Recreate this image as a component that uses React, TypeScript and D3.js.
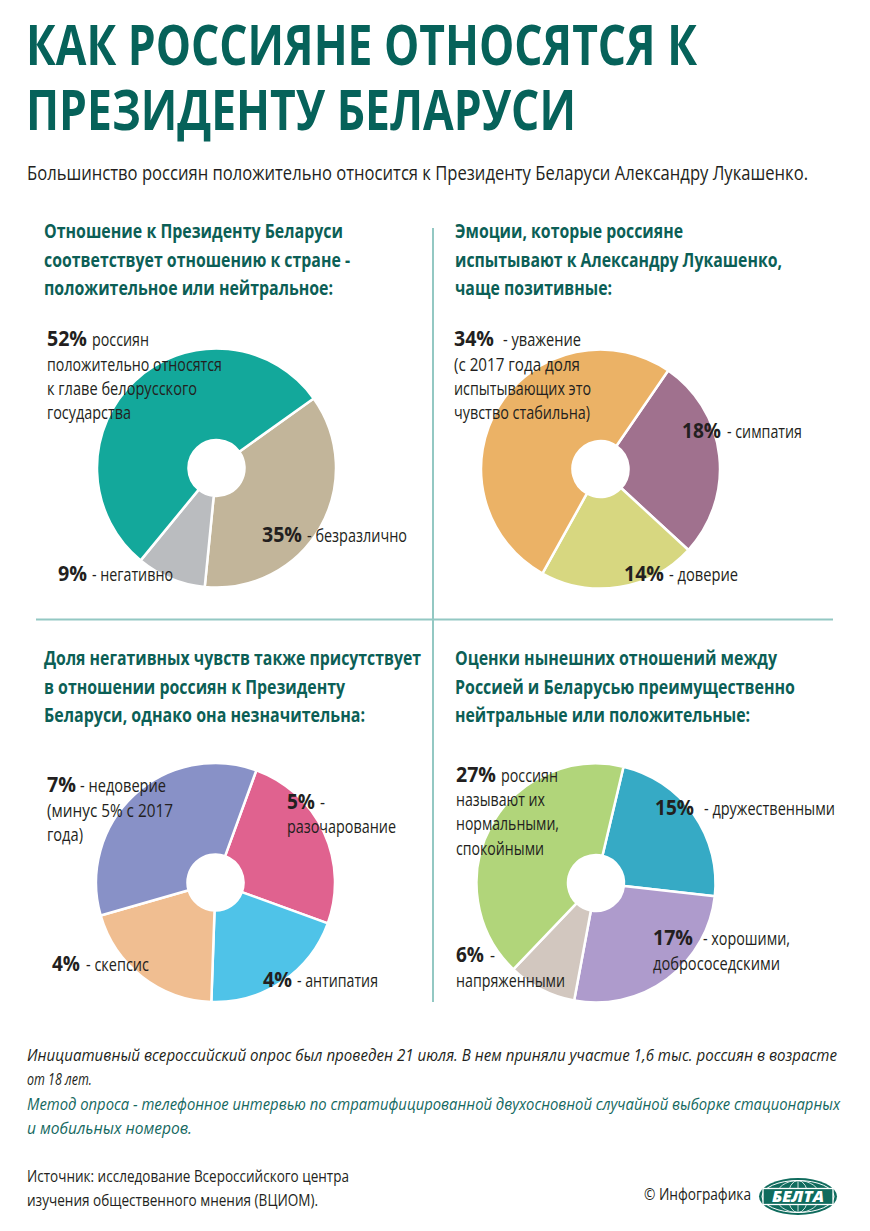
import React from "react";
import * as d3 from "d3";

// ---------- DATA ----------
const titleLines = ["КАК РОССИЯНЕ ОТНОСЯТСЯ К", "ПРЕЗИДЕНТУ БЕЛАРУСИ"];
const subtitle = "Большинство россиян положительно относится к Президенту Беларуси Александру Лукашенко.";

const header1 = ["Отношение к Президенту Беларуси", "соответствует отношению к стране -", "положительное или нейтральное:"];
const header2 = ["Эмоции, которые россияне", "испытывают к Александру Лукашенко,", "чаще позитивные:"];
const header3 = ["Доля негативных чувств также присутствует", "в отношении россиян к Президенту", "Беларуси, однако она незначительна:"];
const header4 = ["Оценки нынешних отношений между", "Россией и Беларусью преимущественно", "нейтральные или положительные:"];

// slices listed clockwise from each pie's start angle
const pie1Categories = ["безразлично", "негативно", "положительно"];
const pie1Values = [35, 9, 52];
const pie2Categories = ["симпатия", "доверие", "уважение"];
const pie2Values = [18, 14, 34];
const pie3Categories = ["разочарование", "антипатия", "скепсис", "недоверие"];
const pie3Values = [5, 4, 4, 7];
const pie4Categories = ["дружественными", "хорошими, добрососедскими", "напряженными", "нормальными, спокойными"];
const pie4Values = [15, 17, 6, 27];

const footerLines = [
  "Инициативный всероссийский опрос был проведен 21 июля. В нем приняли участие 1,6 тыс. россиян в возрасте",
  "от 18 лет.",
];
const methodLines = [
  "Метод опроса - телефонное интервью по стратифицированной двухосновной случайной выборке стационарных",
  "и мобильных номеров.",
];
const sourceLines = ["Источник: исследование Всероссийского центра", "изучения общественного мнения (ВЦИОМ)."];
const creditText = "© Инфографика";
const logoText = "БЕЛТА";

// ---------- STYLE ----------
const pie1Colors = ["#c2b59a", "#babcbf", "#13a89b"];
const pie2Colors = ["#a0718e", "#d7d780", "#ebb266"];
const pie3Colors = ["#e0628f", "#4fc3e8", "#f0be91", "#8891c7"];
const pie4Colors = ["#36aac5", "#ae9bcc", "#d2c7bf", "#b1d57a"];

const TITLE_C = "#06625a";
const HEAD_C = "#0c5f56";
const TEXT_C = "#231f20";
const LINE_C = "#93c8c3";
const FAMILY = "'Open Sans'";
const FONT = "'Open Sans', 'Noto Sans', sans-serif";

type Item = { x: number; y: number; w: number; t?: string; num?: number; bold?: boolean };

const pieLayouts = [
  { cx: 216.5, cy: 468, start: 54.4, values: pie1Values, colors: pie1Colors, cats: pie1Categories },
  { cx: 600.5, cy: 469, start: 34.5, values: pie2Values, colors: pie2Colors, cats: pie2Categories },
  { cx: 215.5, cy: 882.5, start: 20, values: pie3Values, colors: pie3Colors, cats: pie3Categories },
  { cx: 596, cy: 883, start: 13.3, values: pie4Values, colors: pie4Colors, cats: pie4Categories },
];

const labelLayouts: Item[][] = [
  [
    { x: 47, y: 346, w: 40, num: 2, bold: true },
    { x: 92, y: 346, w: 57, t: "россиян" },
    { x: 47, y: 371, w: 175, t: "положительно относятся" },
    { x: 47, y: 395, w: 150, t: "к главе белорусского" },
    { x: 47, y: 419, w: 84, t: "государства" },
    { x: 262, y: 542, w: 40, num: 0, bold: true },
    { x: 307, y: 542, w: 100, t: "- безразлично" },
    { x: 58, y: 581, w: 29, num: 1, bold: true },
    { x: 92, y: 581, w: 81, t: "- негативно" },
  ],
  [
    { x: 454, y: 346, w: 40, num: 2, bold: true },
    { x: 503, y: 346, w: 78, t: "- уважение" },
    { x: 454, y: 371, w: 126, t: "(с 2017 года доля" },
    { x: 454, y: 395, w: 137, t: "испытывающих это" },
    { x: 454, y: 419, w: 136, t: "чувство стабильна)" },
    { x: 682, y: 438, w: 39, num: 0, bold: true },
    { x: 727, y: 438, w: 75, t: "- симпатия" },
    { x: 624, y: 581, w: 40, num: 1, bold: true },
    { x: 669, y: 581, w: 69, t: "- доверие" },
  ],
  [
    { x: 47, y: 792, w: 29, num: 3, bold: true },
    { x: 80, y: 792, w: 86, t: "- недоверие" },
    { x: 47, y: 817, w: 126, t: "(минус 5% с 2017" },
    { x: 47, y: 841, w: 36, t: "года)" },
    { x: 287, y: 809, w: 28, num: 0, bold: true },
    { x: 320, y: 809, w: 5, t: "-" },
    { x: 287, y: 833, w: 109, t: "разочарование" },
    { x: 52, y: 971, w: 28, num: 2, bold: true },
    { x: 86, y: 971, w: 63, t: "- скепсис" },
    { x: 263, y: 987, w: 29, num: 1, bold: true },
    { x: 297, y: 987, w: 81, t: "- антипатия" },
  ],
  [
    { x: 456, y: 782, w: 40, num: 3, bold: true },
    { x: 501, y: 782, w: 57, t: "россиян" },
    { x: 456, y: 806, w: 89, t: "называют их" },
    { x: 456, y: 830, w: 103, t: "нормальными," },
    { x: 456, y: 855, w: 88, t: "спокойными" },
    { x: 655, y: 815, w: 39, num: 0, bold: true },
    { x: 704, y: 815, w: 131, t: "- дружественными" },
    { x: 653, y: 945, w: 40, num: 1, bold: true },
    { x: 703, y: 945, w: 87, t: "- хорошими," },
    { x: 653, y: 970, w: 127, t: "добрососедскими" },
    { x: 456, y: 962, w: 28, num: 2, bold: true },
    { x: 490, y: 962, w: 5, t: "-" },
    { x: 456, y: 987, w: 109, t: "напряженными" },
  ],
];

const headerLayouts = [
  { lines: header1, x: 44, y: 238, w: [299, 306, 289] },
  { lines: header2, x: 455, y: 238, w: [228, 327, 157] },
  { lines: header3, x: 44, y: 665, w: [377, 301, 321] },
  { lines: header4, x: 455, y: 665, w: [322, 340, 295] },
];

const R_OUT = 119.5;
const R_IN = 28;

// measure natural text width so condensed text is drawn with a font size whose
// natural advance equals the target width, then stretched vertically back to size
let measureCtx: CanvasRenderingContext2D | null = null;
function measure(text: string, size: number, weight: number | string, italic: boolean): number {
  if (typeof document === "undefined") return text.length * size * 0.5;
  if (!measureCtx) {
    const c = document.createElement("canvas");
    measureCtx = c.getContext("2d");
  }
  if (!measureCtx) return text.length * size * 0.5;
  measureCtx.font = `${italic ? "italic " : ""}${weight} ${size}px ${FAMILY}, sans-serif`;
  return measureCtx.measureText(text).width || text.length * size * 0.5;
}

function T(props: {
  x: number; y: number; w?: number; size: number; weight?: number | string; fill: string;
  italic?: boolean; children: string;
}) {
  const { x, y, w, size, fill, italic, children } = props;
  const weight = props.weight ?? 400;
  let fs = size;
  let sy = 1;
  if (w) {
    const nat = measure(children, size, weight, !!italic);
    const k = w / nat;
    fs = size * k;
    sy = 1 / k;
  }
  return (
    <text
      transform={`translate(${x},${y}) scale(1,${sy.toFixed(4)})`}
      x={0}
      y={0}
      fontSize={fs}
      fontWeight={weight}
      fontStyle={italic ? "italic" : "normal"}
      fill={fill}
      fontFamily={FONT}
      {...(w ? { textLength: w, lengthAdjust: "spacingAndGlyphs" } : {})}
    >
      {children}
    </text>
  );
}

function Donut({ layout }: { layout: (typeof pieLayouts)[number] }) {
  const s = (layout.start * Math.PI) / 180;
  const pie = d3
    .pie<number>()
    .sort(null)
    .value((d) => d)
    .startAngle(s)
    .endAngle(s + 2 * Math.PI);
  const arc = d3.arc<d3.PieArcDatum<number>>().innerRadius(R_IN).outerRadius(R_OUT);
  const arcs = pie(layout.values);
  return (
    <g transform={`translate(${layout.cx},${layout.cy})`}>
      {arcs.map((a, i) => (
        <path key={layout.cats[i]} d={arc(a) || ""} fill={layout.colors[i]} stroke="#ffffff" strokeWidth={2.5} strokeLinejoin="round" />
      ))}
    </g>
  );
}

function Logo() {
  const cx = 798, cy = 1196.5, rx = 39, ry = 18.5;
  return (
    <g>
      <ellipse cx={cx} cy={cy} rx={rx} ry={ry} fill="#0f6b5d" />
      <ellipse cx={cx} cy={cy} rx={rx - 3} ry={ry - 2.5} fill="none" stroke="#ffffff" strokeWidth={1} />
      <ellipse cx={cx} cy={cy} rx={10} ry={ry - 2.5} fill="none" stroke="#ffffff" strokeWidth={0.8} />
      <ellipse cx={cx} cy={cy} rx={22} ry={ry - 2.5} fill="none" stroke="#ffffff" strokeWidth={0.8} />
      <line x1={cx} y1={cy - ry + 2.5} x2={cx} y2={cy + ry - 2.5} stroke="#ffffff" strokeWidth={0.8} />
      <rect x={cx - 35} y={cy - 8} width={70} height={16} fill="#0f6b5d" stroke="#ffffff" strokeWidth={1.3} />
      <T x={cx - 26} y={cy + 5.5} w={52} size={15} weight={800} italic fill="#ffffff">{logoText}</T>
    </g>
  );
}

export default function App() {
  return (
    <svg
      width={870}
      height={1231}
      viewBox="0 0 870 1231"
      style={{ position: "absolute", left: 0, top: 0, display: "block", background: "#ffffff" }}
    >
      <rect x={0} y={0} width={870} height={1231} fill="#ffffff" />

      {/* title */}
      <T x={26} y={65} w={671} size={56} weight={700} fill={TITLE_C}>{titleLines[0]}</T>
      <T x={26} y={130} w={550} size={56} weight={700} fill={TITLE_C}>{titleLines[1]}</T>
      <T x={27} y={180} w={781} size={20} fill={TEXT_C}>{subtitle}</T>

      {/* separators */}
      <line x1={36} y1={619.5} x2={833} y2={619.5} stroke={LINE_C} strokeWidth={2} />
      <line x1={433} y1={228} x2={433} y2={1002} stroke={LINE_C} strokeWidth={2} />

      {/* headers */}
      {headerLayouts.map((h, hi) =>
        h.lines.map((ln, li) => (
          <T key={`h${hi}-${li}`} x={h.x} y={h.y + li * 28.6} w={h.w[li]} size={20} weight={700} fill={HEAD_C}>
            {ln}
          </T>
        ))
      )}

      {/* donuts */}
      {pieLayouts.map((p, i) => (
        <Donut key={`pie${i}`} layout={p} />
      ))}

      {/* labels */}
      {labelLayouts.map((items, pi) =>
        items.map((it, k) => (
          <T
            key={`l${pi}-${k}`}
            x={it.x}
            y={it.y}
            w={it.w}
            size={it.bold ? 22 : 18}
            weight={it.bold ? 700 : 400}
            fill={TEXT_C}
          >
            {it.num !== undefined ? `${pieLayouts[pi].values[it.num]}%` : (it.t as string)}
          </T>
        ))
      )}

      {/* footer */}
      <T x={27} y={1061} w={810} size={17} italic fill={TEXT_C}>{footerLines[0]}</T>
      <T x={27} y={1085} w={65} size={17} italic fill={TEXT_C}>{footerLines[1]}</T>
      <T x={27} y={1110} w={813} size={17} italic fill="#15695f">{methodLines[0]}</T>
      <T x={27} y={1134} w={165} size={17} italic fill="#15695f">{methodLines[1]}</T>
      <T x={27} y={1182} w={322} size={17} fill={TEXT_C}>{sourceLines[0]}</T>
      <T x={27} y={1206} w={291} size={17} fill={TEXT_C}>{sourceLines[1]}</T>
      <T x={644} y={1200} w={107} size={17} fill={TEXT_C}>{creditText}</T>

      <Logo />
    </svg>
  );
}
